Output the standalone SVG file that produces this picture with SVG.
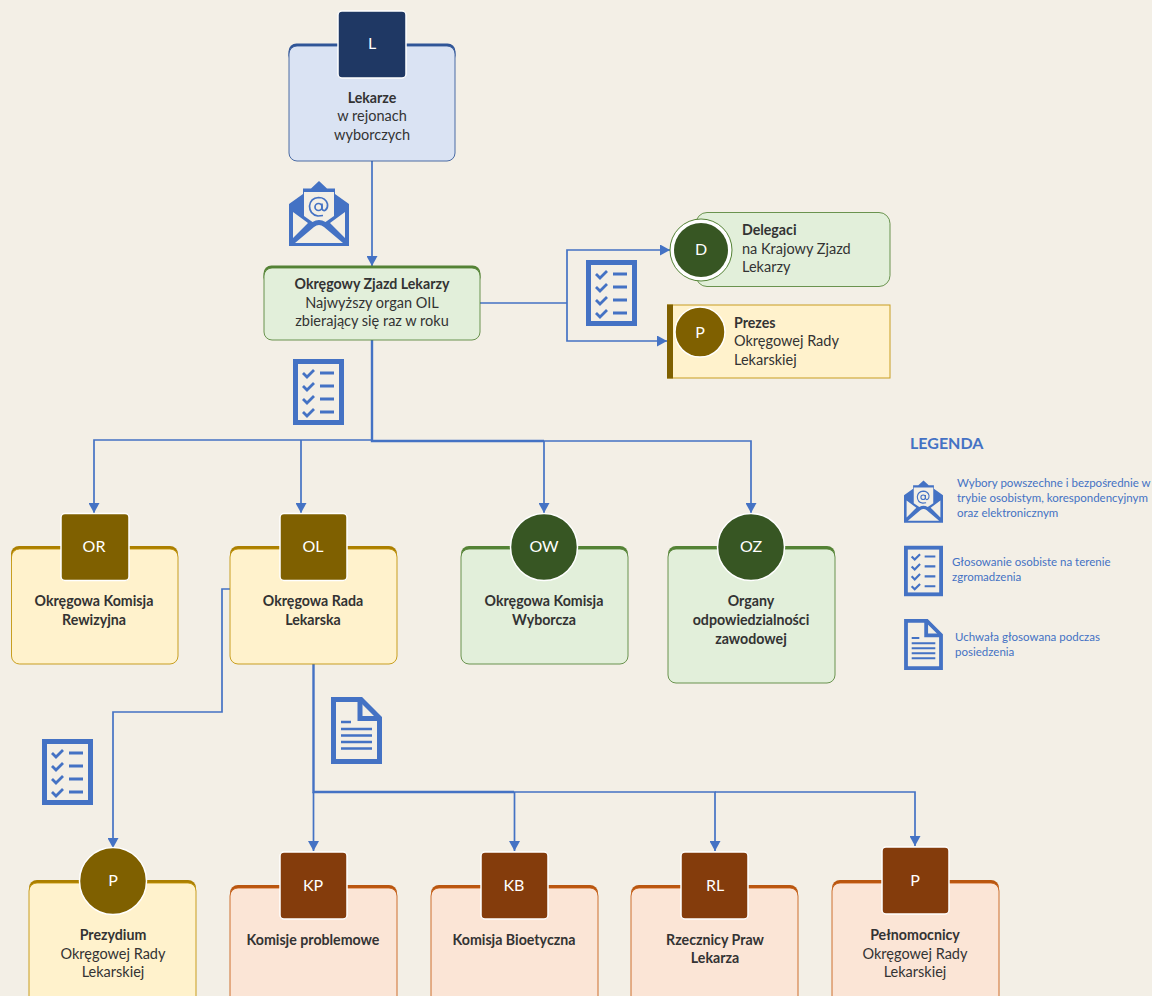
<svg xmlns="http://www.w3.org/2000/svg" width="1152" height="996" viewBox="0 0 1152 996">
<style>
text{font-family:"Lato","Open Sans","Liberation Sans",sans-serif;font-size:14.5px;fill:#333;text-anchor:middle}
.b{font-weight:700;font-size:14.2px}
.l{text-anchor:start}
.w{fill:#fff;font-size:16px}
.lg{fill:#4472c4;font-size:11.5px;text-anchor:start}
.c{fill:none;stroke:#4472c4;stroke-width:1.7}
.t{fill:none;stroke:#4472c4;stroke-width:2.4}
.f{stroke-opacity:.85}
.blue .f{fill:#dae3f3;stroke:#2f5597}.blue .h{fill:#2f5597}.blue .d{fill:#1f3864}
.green .f{fill:#e2efda;stroke:#548235}.green .h{fill:#548235}.green .d{fill:#375623}
.gold .f{fill:#fff2cc;stroke:#bf9000}.gold .h{fill:#ab7f00}.gold .d{fill:#7f6000}
.orange .f{fill:#fbe5d6;stroke:#c55a11}.orange .h{fill:#b9560f}.orange .d{fill:#843c0c}
.d{stroke:#fff;stroke-width:1.5}
</style>
<defs>
<marker id="a" markerUnits="userSpaceOnUse" markerWidth="11" markerHeight="11" refX="10" refY="5.5" orient="auto"><path d="M0 0L10 5.5L0 11Z" fill="#4472c4"/></marker>
<symbol id="mail" viewBox="0 0 60 65">
<path d="M30 0L38 7.500H46V13L60 23V65H0V23L14 13V7.500H22Z" fill="#4472c4"/>
<path d="M15 11H45V35L36.500 41Q30 37 23.500 41L15 35Z" fill="#f3efe6"/>
<path d="M4 31L19 42L4 57ZM56 31L41 42L56 57ZM6 62L25 46Q30 42 35 46L54 62Z" fill="#f3efe6"/>
<circle cx="29.500" cy="26" r="3.500" fill="none" stroke="#4472c4" stroke-width="1.700"/>
<path d="M33 22.500V28Q34.500 30.500 36.500 29Q39 27 38.500 23Q36.500 16.500 29.500 16.500Q21.500 17 20.500 25Q20.500 33.500 29 35L34 34.500" fill="none" stroke="#4472c4" stroke-width="1.700"/>
</symbol>
<symbol id="list" viewBox="0 0 51 66">
<rect x="2.500" y="2.500" width="46" height="61" fill="none" stroke="#4472c4" stroke-width="5"/>
<path d="M10 14L14 18L21 11M27 14H41M10 27L14 31L21 24M27 27H41M10 40L14 44L21 37M27 40H41M10 53L14 57L21 50M27 53H41" fill="none" stroke="#4472c4" stroke-width="2.800"/>
</symbol>
<symbol id="doc" viewBox="0 0 51 67">
<path d="M2.500 2.500H30L48.500 21V64.500H2.500Z" fill="none" stroke="#4472c4" stroke-width="5"/>
<path d="M29 3V21.500H48" fill="none" stroke="#4472c4" stroke-width="5"/>
<path d="M10 25H20M10 32H41M10 38.500H41M10 45H41M10 51.500H41" fill="none" stroke="#4472c4" stroke-width="2.600"/>
</symbol>
</defs>
<rect width="1152" height="996" fill="#f3efe6"/>
<g id="connectors">
<path class="c" d="M372 161V266" marker-end="url(#a)"/>
<path class="c" d="M480 303H567M567 303V250H670" marker-end="url(#a)"/>
<path class="c" d="M567 303V341H667" marker-end="url(#a)"/>
<path class="t" d="M372 340V441H544"/>
<path class="c" d="M372 440H94V513" marker-end="url(#a)"/>
<path class="c" d="M301 440V513" marker-end="url(#a)"/>
<path class="c" d="M544 441V513" marker-end="url(#a)"/>
<path class="c" d="M544 441H751V513" marker-end="url(#a)"/>
<path class="c" d="M230 589H222V712H113V848" marker-end="url(#a)"/>
<path class="t" d="M313.500 664V792H514"/>
<path class="c" d="M313.500 792V851" marker-end="url(#a)"/>
<path class="c" d="M514.500 792V851" marker-end="url(#a)"/>
<path class="c" d="M514 792H715V851" marker-end="url(#a)"/>
<path class="c" d="M715 792H915V846" marker-end="url(#a)"/>
</g>
<g id="icons">
<use href="#mail" x="289" y="181" width="60" height="65"/>
<use href="#list" x="586" y="260" width="51" height="66"/>
<use href="#list" x="293" y="359" width="51" height="66"/>
<use href="#list" x="42" y="739" width="51" height="66"/>
<use href="#doc" x="331" y="697" width="51" height="67"/>
</g>
<g id="lekarze" class="blue">
<rect class="h" x="288.500" y="43.500" width="167" height="20" rx="8"/>
<rect class="f" x="289" y="46" width="166" height="115" rx="8"/>
<rect class="d" x="338" y="11" width="68" height="67" rx="4"/>
<text class="w" x="372" y="49">L</text>
<text class="b" x="372" y="103">Lekarze</text><text x="372" y="121">w rejonach</text><text x="372" y="140">wyborczych</text>
</g>
<g id="zjazd" class="green">
<rect class="h" x="263.500" y="265.500" width="217" height="20" rx="8"/>
<rect class="f" x="264" y="268" width="216" height="72" rx="8"/>
<text class="b" x="372" y="289">Okręgowy Zjazd Lekarzy</text><text x="372" y="308">Najwyższy organ OIL</text><text x="372" y="326">zbierający się raz w roku</text>
</g>
<g id="delegaci" class="green">
<rect class="f" x="696" y="212.500" width="194" height="74" rx="11"/>
<circle cx="701" cy="250" r="31" fill="#fff" stroke="#548235"/>
<circle cx="701" cy="250" r="27" fill="#375623"/>
<text class="w" x="701" y="255">D</text>
<text class="b l" x="742" y="235">Delegaci</text><text class="l" x="742" y="254">na Krajowy Zjazd</text><text class="l" x="742" y="272">Lekarzy</text>
</g>
<g id="prezes" class="gold">
<rect class="f" x="667.500" y="305" width="222.500" height="73"/>
<rect x="667" y="304.500" width="6" height="74" fill="#7f6000"/>
<circle class="d" cx="700" cy="332" r="25" fill="#7f6000"/>
<text class="w" x="700" y="338">P</text>
<text class="b l" x="734" y="328">Prezes</text><text class="l" x="734" y="346">Okręgowej Rady</text><text class="l" x="734" y="365">Lekarskiej</text>
</g>
<g id="or" class="gold">
<rect class="h" x="11" y="546" width="167" height="20" rx="8"/>
<rect class="f" x="11.500" y="549" width="166.500" height="115" rx="8"/>
<rect class="d" x="61" y="513.500" width="68" height="67" rx="4"/>
<text class="w" x="94" y="552">OR</text>
<text class="b" x="94" y="606">Okręgowa Komisja</text><text class="b" x="94" y="625">Rewizyjna</text>
</g>
<g id="ol" class="gold">
<rect class="h" x="230" y="546" width="167" height="20" rx="8"/>
<rect class="f" x="230" y="549" width="167" height="115" rx="8"/>
<rect class="d" x="280" y="513.500" width="67" height="67" rx="4"/>
<text class="w" x="313" y="552">OL</text>
<text class="b" x="313" y="606">Okręgowa Rada</text><text class="b" x="313" y="625">Lekarska</text>
</g>
<g id="ow" class="green">
<rect class="h" x="461" y="546" width="167" height="20" rx="8"/>
<rect class="f" x="461" y="549" width="167" height="115" rx="8"/>
<circle class="d" cx="544" cy="547" r="33.500"/>
<text class="w" x="544" y="552">OW</text>
<text class="b" x="544" y="606">Okręgowa Komisja</text><text class="b" x="544" y="625">Wyborcza</text>
</g>
<g id="oz" class="green">
<rect class="h" x="668" y="546" width="167" height="20" rx="8"/>
<rect class="f" x="668" y="549" width="167" height="134" rx="8"/>
<circle class="d" cx="751" cy="547" r="33.500"/>
<text class="w" x="751" y="552">OZ</text>
<text class="b" x="751" y="606">Organy</text><text class="b" x="751" y="625">odpowiedzialności</text><text class="b" x="751" y="644">zawodowej</text>
</g>
<g id="prezydium" class="gold">
<rect class="h" x="29" y="880" width="167" height="20" rx="8"/>
<rect class="f" x="29" y="883" width="167" height="125" rx="8"/>
<circle class="d" cx="113" cy="881" r="33.500"/>
<text class="w" x="113" y="886">P</text>
<text class="b" x="113" y="940">Prezydium</text><text x="113" y="959">Okręgowej Rady</text><text x="113" y="977">Lekarskiej</text>
</g>
<g id="kp" class="orange">
<rect class="h" x="230" y="885" width="167" height="20" rx="8"/>
<rect class="f" x="230" y="888" width="167" height="120" rx="8"/>
<rect class="d" x="280" y="852" width="67" height="67" rx="4"/>
<text class="w" x="313" y="891">KP</text>
<text class="b" x="313" y="945">Komisje problemowe</text>
</g>
<g id="kb" class="orange">
<rect class="h" x="431" y="885" width="167" height="20" rx="8"/>
<rect class="f" x="431" y="888" width="167" height="120" rx="8"/>
<rect class="d" x="481" y="852" width="67" height="67" rx="4"/>
<text class="w" x="514" y="891">KB</text>
<text class="b" x="514" y="945">Komisja Bioetyczna</text>
</g>
<g id="rl" class="orange">
<rect class="h" x="631" y="885" width="167" height="20" rx="8"/>
<rect class="f" x="631" y="888" width="167" height="120" rx="8"/>
<rect class="d" x="681" y="852" width="67" height="67" rx="4"/>
<text class="w" x="715" y="891">RL</text>
<text class="b" x="715" y="945">Rzecznicy Praw</text><text class="b" x="715" y="963">Lekarza</text>
</g>
<g id="pelnomocnicy" class="orange">
<rect class="h" x="832" y="880" width="167" height="20" rx="8"/>
<rect class="f" x="832" y="883" width="167" height="125" rx="8"/>
<rect class="d" x="882" y="847" width="67" height="67" rx="4"/>
<text class="w" x="915" y="886">P</text>
<text class="b" x="915" y="940">Pełnomocnicy</text><text x="915" y="959">Okręgowej Rady</text><text x="915" y="977">Lekarskiej</text>
</g>
<g id="legend">
<text class="b" x="910" y="449" style="fill:#4472c4;font-size:16px;text-anchor:start">LEGENDA</text>
<use href="#mail" x="904" y="480" width="39" height="43"/>
<text class="lg" x="957" y="487">Wybory powszechne i bezpośrednie w</text>
<text class="lg" x="957" y="502">trybie osobistym, korespondencyjnym</text>
<text class="lg" x="957" y="517">oraz elektronicznym</text>
<use href="#list" x="904" y="545" width="39" height="52"/>
<text class="lg" x="952" y="566">Głosowanie osobiste na terenie</text>
<text class="lg" x="952" y="581">zgromadzenia</text>
<use href="#doc" x="904" y="619" width="39" height="51"/>
<text class="lg" x="955" y="641">Uchwała głosowana podczas</text>
<text class="lg" x="955" y="656">posiedzenia</text>
</g>
</svg>
